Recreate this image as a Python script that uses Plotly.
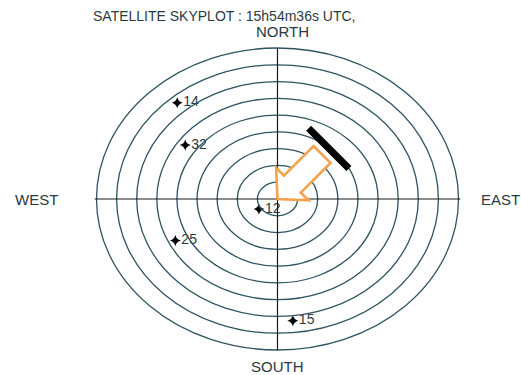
import math
import plotly.graph_objects as go

# ---- data ----
prn = ["14", "32", "12", "25", "15"]
azimuth_deg = [319, 305, 237, 244, 174]
elevation_deg = [14, 34, 79, 33.5, 17]
elevation_rings = [0, 10, 20, 30, 40, 50, 60, 70, 80]
title_text = "SATELLITE SKYPLOT : 15h54m36s UTC,"
direction_labels = ["NORTH", "SOUTH", "WEST", "EAST"]
arrow_azimuth_deg = 45

# ---- projection helpers ----
def proj(az, el):
    r = (90 - el) / 90.0
    a = math.radians(az)
    return r * math.sin(a), r * math.cos(a)

xs, ys = zip(*[proj(a, e) for a, e in zip(azimuth_deg, elevation_deg)])

# pixel scale of a unit radius (for isotropic arrow geometry)
SX, SY = 181.0, 151.0
W, H = 521, 375
CX, CY = 277.5, 199.0
xr = [-CX / SX, (W - CX) / SX]
yr = [-(H - CY) / SY, CY / SY]

ring_color = "#2d5361"
shapes = []
for el in elevation_rings:
    r = (90 - el) / 90.0
    shapes.append(dict(type="circle", xref="x", yref="y", x0=-r, x1=r, y0=-r, y1=r,
                       line=dict(color=ring_color, width=1.3)))
shapes.append(dict(type="line", x0=-1.01, x1=1.01, y0=0, y1=0, line=dict(color="#1a1a1a", width=1.2)))
shapes.append(dict(type="line", x0=0, x1=0, y0=-1, y1=1, line=dict(color="#1a1a1a", width=1.2)))

# arrow (tip at centre, pointing away from arrow_azimuth)
a = math.radians(arrow_azimuth_deg)
ux, uy = math.sin(a), math.cos(a)  # screen-isotropic direction toward tail
vx, vy = -uy, ux
def pt(u, v):
    px = u * ux + v * vx
    py = u * uy + v * vy
    return px / SX, py / SY
poly = [pt(0, 0), pt(21, 23), pt(21, 12), pt(63, 12), pt(63, -12), pt(21, -12), pt(21, -23)]
path = "M " + " L ".join(f"{x:.5f},{y:.5f}" for x, y in poly) + " Z"
shapes.append(dict(type="path", path=path, fillcolor="white",
                   line=dict(color="#f5a14c", width=2.6)))
b0 = pt(72, 28)
b1 = pt(72, -29)
shapes.append(dict(type="line", x0=b0[0], y0=b0[1], x1=b1[0], y1=b1[1],
                   line=dict(color="black", width=7)))

fig = go.Figure()
fig.add_trace(go.Scatter(
    x=xs, y=ys, mode="markers+text", text=prn, textposition="middle right",
    marker=dict(symbol="star-diamond", size=8, color="black"),
    textfont=dict(family="Liberation Sans, Arial", size=14, color="#2b3a40"),
    hoverinfo="skip", showlegend=False,
))

tfont = dict(family="Liberation Sans, Arial", size=14, color="#2b3a40")
dfont = dict(family="Liberation Sans, Arial", size=15, color="#2b3a40")
annotations = [
    dict(x=(224 - CX) / SX, y=(CY - 16) / SY, text=title_text, showarrow=False, font=tfont),
    dict(x=(282.5 - CX) / SX, y=(CY - 31) / SY, text=direction_labels[0], showarrow=False, font=dfont),
    dict(x=0, y=(CY - 366) / SY, text=direction_labels[1], showarrow=False, font=dfont),
    dict(x=(36 - CX) / SX, y=0, text=direction_labels[2], showarrow=False, font=dfont),
    dict(x=(500 - CX) / SX, y=0, text=direction_labels[3], showarrow=False, font=dfont),
]

fig.update_layout(
    width=W, height=H, margin=dict(l=0, r=0, t=0, b=0),
    paper_bgcolor="white", plot_bgcolor="white",
    xaxis=dict(range=xr, visible=False, fixedrange=True),
    yaxis=dict(range=yr, visible=False, fixedrange=True),
    shapes=shapes, annotations=annotations,
)
fig.write_html("out.html")
